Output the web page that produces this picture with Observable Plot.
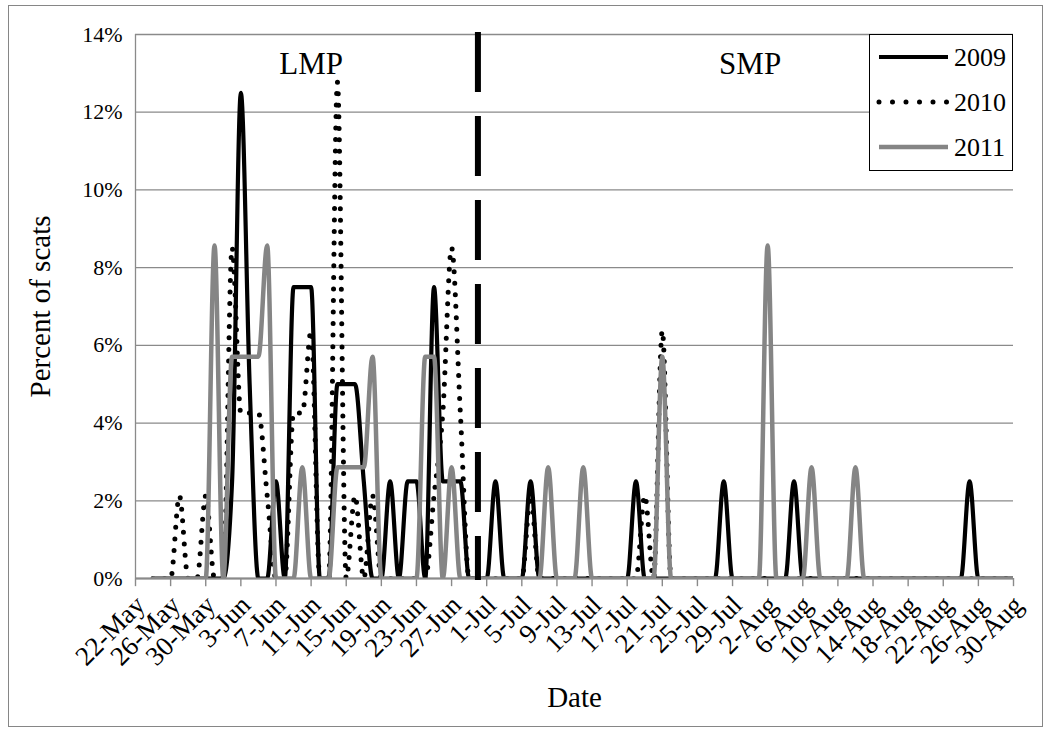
<!DOCTYPE html>
<html>
<head>
<meta charset="utf-8">
<script src="https://cdn.jsdelivr.net/npm/d3@7"></script>
<script src="https://cdn.jsdelivr.net/npm/@observablehq/plot@0.6"></script>
<style>
html, body { margin: 0; padding: 0; background: #fff; }
#wrap { position: relative; width: 1050px; height: 732px; }
#wrap, #wrap svg, #wrap svg text { font-family: "Liberation Serif", "Times New Roman", "DejaVu Serif", serif !important; }
#chart { position: absolute; left: 0; top: 0; }
#frame { position: absolute; left: 8px; top: 5px; width: 1035px; height: 722px; border: 1.5px solid #868686; box-sizing: border-box; pointer-events: none; }
#legend { position: absolute; left: 869px; top: 34px; width: 144px; height: 137px; border: 1.3px solid #000; background: #fff; box-sizing: border-box; }
</style>
</head>
<body>
<div id="wrap"><div id="chart"></div><div id="frame"></div><div id="legend"></div></div>
<script>
// ---- data (percent of scats per day, 24-May ... 30-Aug) ----
const firstDay = "2009-05-24";
const lastDay = "2009-08-30";
const axisStart = "2009-05-22";
const axisEnd = "2009-08-30";
const dividerDate = "2009-06-30";

const seriesNames = ["2009", "2010", "2011"];

// 24-May .. 1-Jun (9 days), then rows of 10 days
const v2009 = [
  0, 0, 0, 0, 0, 0, 0, 0, 0,
  2.5, 12.5, 5, 0, 0, 2.5, 0, 7.5, 7.5, 7.5,
  0, 0, 5, 5, 5, 2.5, 0, 0, 2.5, 0,
  2.5, 2.5, 0, 7.5, 2.5, 2.5, 2.5, 0, 0, 0,
  2.5, 0, 0, 0, 2.5, 0, 0, 0, 0, 0,
  0, 0, 0, 0, 0, 0, 2.5, 0, 0, 0,
  0, 0, 0, 0, 0, 0, 2.5, 0, 0, 0,
  0, 0, 0, 0, 2.5, 0, 0, 0, 0, 0,
  0, 0, 0, 0, 0, 0, 0, 0, 0, 0,
  0, 0, 0, 0, 2.5, 0, 0, 0, 0, 0
];
const v2010 = [
  0, 0, 0, 2.13, 0, 0, 2.13, 0, 0,
  8.51, 4.26, 4.26, 4.26, 2.13, 0, 0, 4.26, 4.26, 6.38,
  0, 0, 12.77, 0, 2.13, 0, 2.13, 0, 0, 0,
  0, 0, 0, 2.13, 4.26, 8.51, 4.26, 0, 0, 0,
  0, 0, 0, 0, 2.13, 0, 0, 0, 0, 0,
  0, 0, 0, 0, 0, 0, 0, 2.13, 0, 6.38,
  0, 0, 0, 0, 0, 0, 0, 0, 0, 0,
  0, 0, 0, 0, 0, 0, 0, 0, 0, 0,
  0, 0, 0, 0, 0, 0, 0, 0, 0, 0,
  0, 0, 0, 0, 0, 0, 0, 0, 0, 0
];
const v2011 = [
  0, 0, 0, 0, 0, 0, 0, 8.57, 0,
  5.71, 5.71, 5.71, 5.71, 8.57, 0, 0, 0, 2.86, 0,
  0, 0, 2.86, 2.86, 2.86, 2.86, 5.71, 0, 0, 0,
  0, 0, 5.71, 5.71, 0, 2.86, 0, 0, 0, 0,
  0, 0, 0, 0, 0, 0, 2.86, 0, 0, 0,
  2.86, 0, 0, 0, 0, 0, 0, 0, 0, 5.71,
  0, 0, 0, 0, 0, 0, 0, 0, 0, 0,
  0, 8.57, 0, 0, 0, 0, 2.86, 0, 0, 0,
  0, 2.86, 0, 0, 0, 0, 0, 0, 0, 0,
  0, 0, 0, 0, 0, 0, 0, 0, 0, 0
];

const yTicks = [0, 2, 4, 6, 8, 10, 12, 14];
const phaseLabels = ["LMP", "SMP"];
const phaseDates = ["2009-06-11", "2009-07-31"];
const yTitle = "Percent of scats";
const xTitle = "Date";

// ---- build ----
const parse = d3.utcParse("%Y-%m-%d");
const days = d3.utcDay.range(parse(firstDay), d3.utcDay.offset(parse(lastDay), 1));
const xTicks = d3.utcDay.range(parse(axisStart), d3.utcDay.offset(parse(axisEnd), 1), 4);
const valueSets = [v2009, v2010, v2011];
const rows = [];
valueSets.forEach((vals, k) => vals.forEach((v, i) => rows.push({date: days[i], value: v, series: seriesNames[k]})));

const styles = {
  "2009": {stroke: "#000", strokeWidth: 4.2},
  "2010": {stroke: "#000", strokeWidth: 5, strokeDasharray: "0,11.5", strokeLinecap: "round"},
  "2011": {stroke: "#858585", strokeWidth: 4.5}
};
const fmt = d3.utcFormat("%-d-%b");
const font = "'Liberation Serif', 'Times New Roman', 'DejaVu Serif', serif";

const chart = Plot.plot({
  width: 1050,
  height: 732,
  marginLeft: 135,
  marginRight: 37,
  marginTop: 34,
  marginBottom: 154,
  style: {fontFamily: font, background: "transparent", color: "#000", overflow: "visible"},
  x: {type: "utc", domain: [parse(axisStart), parse(axisEnd)]},
  y: {domain: [0, 14]},
  marks: [
    Plot.gridY(yTicks, {stroke: "#8a8a8a", strokeOpacity: 1, strokeWidth: 1.3}),
    Plot.ruleX([parse(axisStart)], {y1: 0, y2: 14, stroke: "#8a8a8a", strokeWidth: 1.3}),
    Plot.axisY(yTicks, {tickSize: 0, tickPadding: 13, tickFormat: d => d + "%", fontSize: 22, label: null}),
    Plot.ruleX(xTicks, {x: d => d, y1: 0, y2: -0.21, stroke: "#8a8a8a", strokeWidth: 1.4}),
    Plot.axisX(xTicks, {tickSize: 0, tickPadding: 22, dx: 5, tickRotate: -45, tickFormat: fmt, fontSize: 27, label: null}),
    ...seriesNames.map(s => Plot.line(rows.filter(r => r.series === s), {
      x: "date", y: "value", curve: "monotone-x", clip: true, strokeLinejoin: "round", ...styles[s]
    })),
    Plot.ruleY([0], {stroke: "#8a8a8a", strokeWidth: 2.2}),
    Plot.ruleX([parse(dividerDate)], {y1: 14.05, y2: -0.05, stroke: "#000", strokeWidth: 6, strokeDasharray: "60,24"}),
    Plot.text(phaseLabels, {x: (d, i) => parse(phaseDates[i]), y: 14, dy: 30, text: d => d, fontSize: 31, fill: "#000"}),
    Plot.text([yTitle], {frameAnchor: "left", dx: -95, rotate: -90, textAnchor: "middle", text: d => d, fontSize: 29, fill: "#000"}),
    Plot.text([xTitle], {frameAnchor: "bottom", dy: 128, textAnchor: "middle", text: d => d, fontSize: 29, fill: "#000"})
  ]
});
document.getElementById("chart").appendChild(chart);

// legend
const lg = d3.select("#legend").append("svg").attr("width", 142).attr("height", 135);
seriesNames.forEach((s, i) => {
  const y = 22 + i * 45;
  const st = styles[s];
  lg.append("line").attr("x1", 9).attr("x2", 78).attr("y1", y).attr("y2", y)
    .attr("stroke", st.stroke).attr("stroke-width", st.strokeWidth)
    .attr("stroke-dasharray", s === "2010" ? "0,13.5" : null)
    .attr("stroke-linecap", s === "2010" ? "round" : "butt");
  lg.append("text").attr("x", 84).attr("y", y).attr("dy", "0.35em")
    .attr("font-size", 26).text(s);
});
</script>
</body>
</html>
